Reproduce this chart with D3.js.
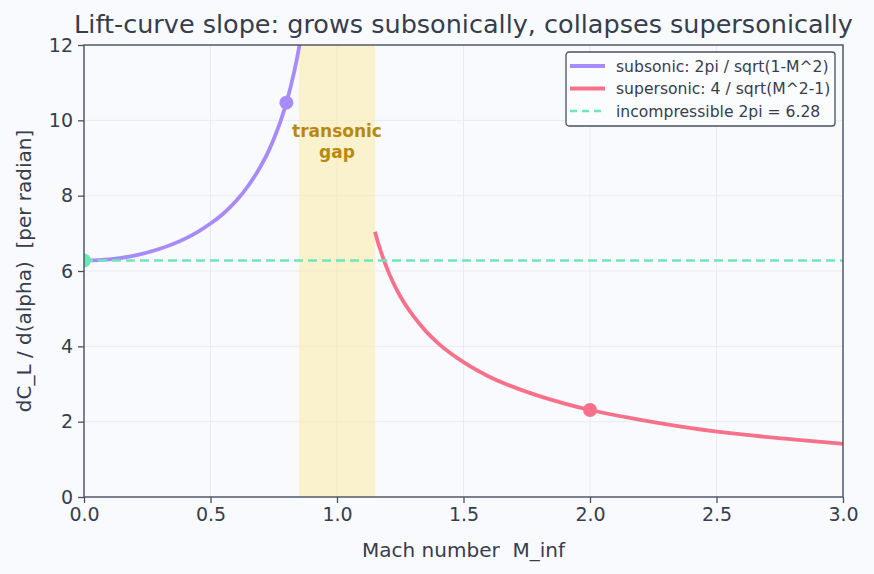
<!DOCTYPE html>
<html><head><meta charset="utf-8">
<script src="https://cdn.jsdelivr.net/npm/d3@7"></script>
<style>
html,body{margin:0;padding:0;background:#f9fafd;}
text{font-family:"DejaVu Sans",sans-serif;white-space:pre;}
</style></head>
<body>
<svg id="chart" width="874" height="574"></svg>
<script>
// Data
const subsonicM   = [0.00,0.10,0.20,0.30,0.40,0.45,0.50,0.55,0.60,0.65,0.70,0.73,0.76,0.78,0.80,0.82,0.84,0.85,0.86,0.87];
const subsonicVal = [6.28,6.31,6.41,6.59,6.86,7.04,7.26,7.52,7.85,8.27,8.80,9.19,9.67,10.04,10.47,10.98,11.58,11.93,12.31,12.74];
const superM      = [1.15,1.16,1.17,1.18,1.20,1.22,1.25,1.30,1.35,1.40,1.50,1.60,1.75,1.90,2.00,2.20,2.40,2.60,2.80,3.00];
const superVal    = [7.04,6.80,6.59,6.39,6.03,5.72,5.33,4.82,4.41,4.08,3.58,3.20,2.79,2.48,2.31,2.05,1.83,1.66,1.53,1.41];
const incompVal   = 6.28;
const markerM     = [0.8, 2.0, 0.0];
const markerVal   = [10.47, 2.31, 6.28];
const gapRange    = [0.85, 1.15];
const xTicks      = [0, 0.5, 1.0, 1.5, 2.0, 2.5, 3.0];
const yTicks      = [0, 2, 4, 6, 8, 10, 12];
const legendLabels = ["subsonic: 2pi / sqrt(1-M^2)", "supersonic: 4 / sqrt(M^2-1)", "incompressible 2pi = 6.28"];

const C_SUB = "#a78bfa", C_SUP = "#f7718a", C_INC = "#6ee7b7", C_TXT = "#363d4d", C_AX = "#4b5060";

const svg = d3.select("#chart");
const W = 874, H = 574;
const m = {l:84, r:31, t:45, b:77};
const x = d3.scaleLinear().domain([0,3]).range([m.l, W-m.r]);
const y = d3.scaleLinear().domain([0,12]).range([H-m.b, m.t]);

svg.append("defs").append("clipPath").attr("id","clip")
  .append("rect").attr("x",m.l).attr("y",m.t).attr("width",W-m.l-m.r).attr("height",H-m.t-m.b);

// grid
const grid = svg.append("g");
xTicks.forEach(t=>grid.append("line").attr("x1",x(t)).attr("x2",x(t)).attr("y1",m.t).attr("y2",H-m.b)
  .attr("stroke","#e9ebf0").attr("stroke-width",1));
yTicks.forEach(t=>grid.append("line").attr("y1",y(t)).attr("y2",y(t)).attr("x1",m.l).attr("x2",W-m.r)
  .attr("stroke","#e9ebf0").attr("stroke-width",1));

const plot = svg.append("g").attr("clip-path","url(#clip)");
// transonic band
plot.append("rect").attr("x",x(gapRange[0])).attr("width",x(gapRange[1])-x(gapRange[0]))
  .attr("y",m.t).attr("height",H-m.t-m.b).attr("fill","#fbe9a6").attr("opacity",0.55);

const line = d3.line().x(d=>x(d[0])).y(d=>y(d[1])).curve(d3.curveMonotoneX);
plot.append("path").datum(subsonicM.map((v,i)=>[v,subsonicVal[i]])).attr("d",line)
  .attr("fill","none").attr("stroke",C_SUB).attr("stroke-width",3.8);
plot.append("path").datum(superM.map((v,i)=>[v,superVal[i]])).attr("d",line)
  .attr("fill","none").attr("stroke",C_SUP).attr("stroke-width",3.8);
plot.append("line").attr("x1",x(0)).attr("x2",x(3)).attr("y1",y(incompVal)).attr("y2",y(incompVal))
  .attr("stroke",C_INC).attr("stroke-width",2.4).attr("stroke-dasharray","9,5");

const mColors = [C_SUB, C_SUP, C_INC];
markerM.forEach((mm,i)=>plot.append("circle").attr("cx",x(mm)).attr("cy",y(markerVal[i])).attr("r",7).attr("fill",mColors[i]));

// transonic text
const tg = svg.append("text").attr("x",x(1.0)).attr("y",y(9.55)).attr("text-anchor","middle")
  .attr("fill","#b8890f").attr("font-weight","bold").attr("font-size",17);
tg.append("tspan").attr("x",x(1.0)).attr("dy",0).text("transonic");
tg.append("tspan").attr("x",x(1.0)).attr("dy",21).text("gap");

// axes
const xAxis = d3.axisBottom(x).tickValues(xTicks).tickFormat(d3.format(".1f")).tickSize(6).tickPadding(5);
const yAxis = d3.axisLeft(y).tickValues(yTicks).tickFormat(d3.format("d")).tickSize(6).tickPadding(5);
const gx = svg.append("g").attr("transform",`translate(0,${H-m.b})`).call(xAxis);
const gy = svg.append("g").attr("transform",`translate(${m.l},0)`).call(yAxis);
[gx,gy].forEach(g=>{
  g.select(".domain").remove();
  g.selectAll(".tick line").attr("stroke",C_AX).attr("stroke-width",1.3);
  g.selectAll(".tick text").attr("fill",C_TXT).attr("font-size",19).attr("font-family","DejaVu Sans");
});
// frame
svg.append("rect").attr("x",m.l).attr("y",m.t).attr("width",W-m.l-m.r).attr("height",H-m.t-m.b)
  .attr("fill","none").attr("stroke",C_AX).attr("stroke-width",1.4);

// labels
svg.append("text").attr("x",(m.l+W-m.r)/2).attr("y",33).attr("text-anchor","middle")
  .attr("fill",C_TXT).attr("font-size",25.5).text("Lift-curve slope: grows subsonically, collapses supersonically");
svg.append("text").attr("x",(m.l+W-m.r)/2).attr("y",557).attr("text-anchor","middle")
  .attr("fill",C_TXT).attr("font-size",20).text("Mach number  M_inf");
svg.append("text").attr("transform",`translate(31,${(m.t+H-m.b)/2}) rotate(-90)`).attr("text-anchor","middle")
  .attr("fill",C_TXT).attr("font-size",20).text("dC_L / d(alpha)  [per radian]");

// legend
const lg = svg.append("g").attr("transform","translate(566,52)");
lg.append("rect").attr("width",269).attr("height",74).attr("rx",3).attr("fill","#fbfcfe")
  .attr("stroke",C_AX).attr("stroke-width",1.3);
const lstyles = [{c:C_SUB,d:null,w:4},{c:C_SUP,d:null,w:4},{c:C_INC,d:"7,5",w:2.4}];
legendLabels.forEach((t,i)=>{
  const yy = 14 + i*22.5;
  lg.append("line").attr("x1",4).attr("x2",39).attr("y1",yy).attr("y2",yy)
    .attr("stroke",lstyles[i].c).attr("stroke-width",lstyles[i].w).attr("stroke-dasharray",lstyles[i].d);
  lg.append("text").attr("x",50).attr("y",yy+5.5).attr("fill",C_TXT).attr("font-size",15.6).text(t);
});
</script>
</body></html>
